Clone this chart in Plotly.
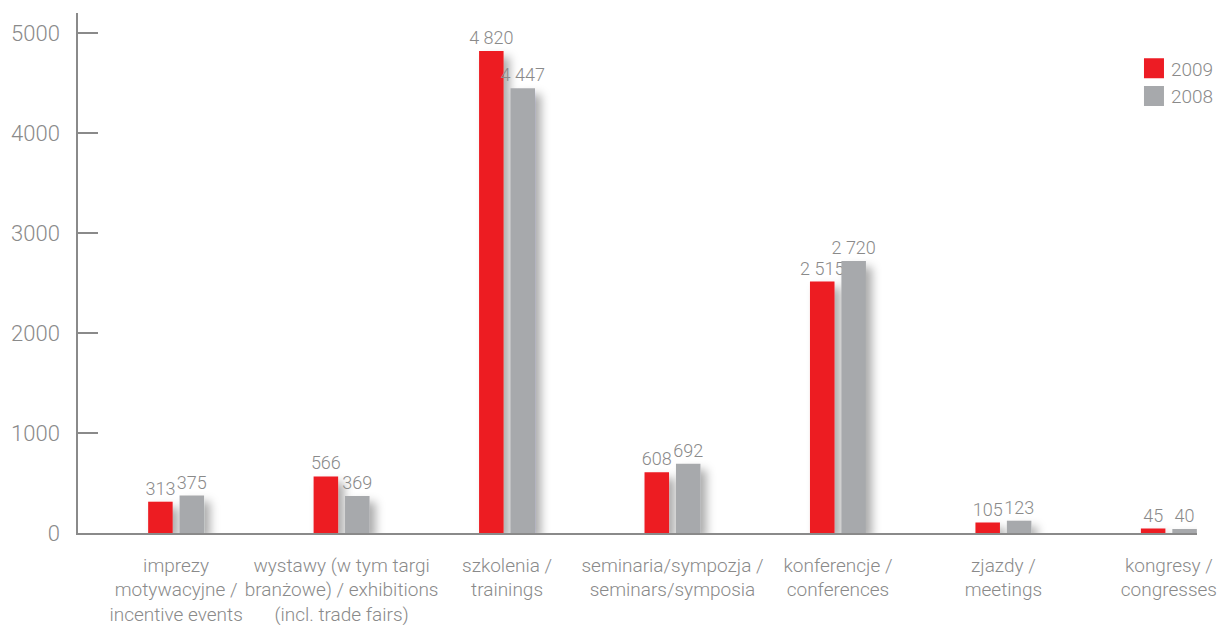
import plotly.graph_objects as go

categories = [
    "imprezy<br>motywacyjne /<br>incentive events",
    "wystawy (w tym targi<br>branżowe) / exhibitions<br>(incl. trade fairs)",
    "szkolenia /<br>trainings",
    "seminaria/sympozja /<br>seminars/symposia",
    "konferencje /<br>conferences",
    "zjazdy /<br>meetings",
    "kongresy /<br>congresses",
]
values_2009 = [313, 566, 4820, 608, 2515, 105, 45]
values_2008 = [375, 369, 4447, 692, 2720, 123, 40]
y_ticks = [0, 1000, 2000, 3000, 4000, 5000]

RED = "#ED1C24"
GREY_BAR = "#A7A9AC"
TEXT = "#8a8a8a"
FONT = "Roboto"


def fmt(v):
    return f"{v:,}".replace(",", " ")


fig = go.Figure()
for name, vals, color in [("2009", values_2009, RED), ("2008", values_2008, GREY_BAR)]:
    fig.add_trace(go.Bar(
        name=name,
        x=categories,
        y=vals,
        marker=dict(color=color, line=dict(width=0)),
        text=[fmt(v) for v in vals],
        textposition="outside",
        textfont=dict(family=FONT, size=18, color=TEXT, weight=300),
        constraintext="none",
        cliponaxis=False,
    ))

fig.update_layout(
    width=1221,
    height=625,
    margin=dict(l=78, r=2, t=13, b=92),
    plot_bgcolor="white",
    paper_bgcolor="white",
    barmode="group",
    bargap=0.62,
    bargroupgap=0.22,
    font=dict(family=FONT, size=19, color=TEXT, weight=300),
    legend=dict(
        x=0.941, xanchor="left", y=0.93, yanchor="top",
        font=dict(family=FONT, size=19, color=TEXT, weight=300),
        tracegroupgap=0, itemclick=False,
        bgcolor="rgba(0,0,0,0)",
    ),
    xaxis=dict(
        type="category",
        range=[-0.593, 6.17],
        showline=True, linecolor="#8a8a8a", linewidth=1.5,
        ticks="", showgrid=False, zeroline=False,
        tickangle=0, automargin=False,
        ticklabelstandoff=14,
        tickfont=dict(family=FONT, size=19, color=TEXT, weight=300),
    ),
    yaxis=dict(
        range=[0, 5200],
        tickvals=y_ticks,
        ticktext=[str(v) for v in y_ticks],
        showline=True, linecolor="#8a8a8a", linewidth=1.5,
        ticks="inside", ticklen=20, tickwidth=1.5, tickcolor="#8a8a8a",
        showgrid=False, zeroline=False,
        automargin=False,
        ticklabelstandoff=12,
        tickfont=dict(family=FONT, size=22, color=TEXT, weight=300),
    ),
)

# soft drop shadow under the bars and larger legend swatches
post_script = """
var gd = document.getElementById('{plot_id}');
var svg = gd.querySelector('svg.main-svg');
var ns = 'http://www.w3.org/2000/svg';
var defs = svg.querySelector('defs');
if (!defs) { defs = document.createElementNS(ns, 'defs'); svg.insertBefore(defs, svg.firstChild); }
var f = document.createElementNS(ns, 'filter');
f.setAttribute('id', 'barshadow');
f.setAttribute('x', '-80%'); f.setAttribute('y', '-60%');
f.setAttribute('width', '260%'); f.setAttribute('height', '220%');
var ds = document.createElementNS(ns, 'feDropShadow');
ds.setAttribute('dx', '6'); ds.setAttribute('dy', '6');
ds.setAttribute('stdDeviation', '5');
ds.setAttribute('flood-color', '#000'); ds.setAttribute('flood-opacity', '0.33');
f.appendChild(ds); defs.appendChild(f);
gd.querySelectorAll('.barlayer .point path').forEach(function(p){ p.setAttribute('filter', 'url(#barshadow)'); });
gd.querySelectorAll('.legend .legendpoints path').forEach(function(p){
    p.setAttribute('d', 'M33,10H13V-10H33Z');
    p.removeAttribute('transform');
});
"""

fig.write_html("out.html", post_script=post_script)
